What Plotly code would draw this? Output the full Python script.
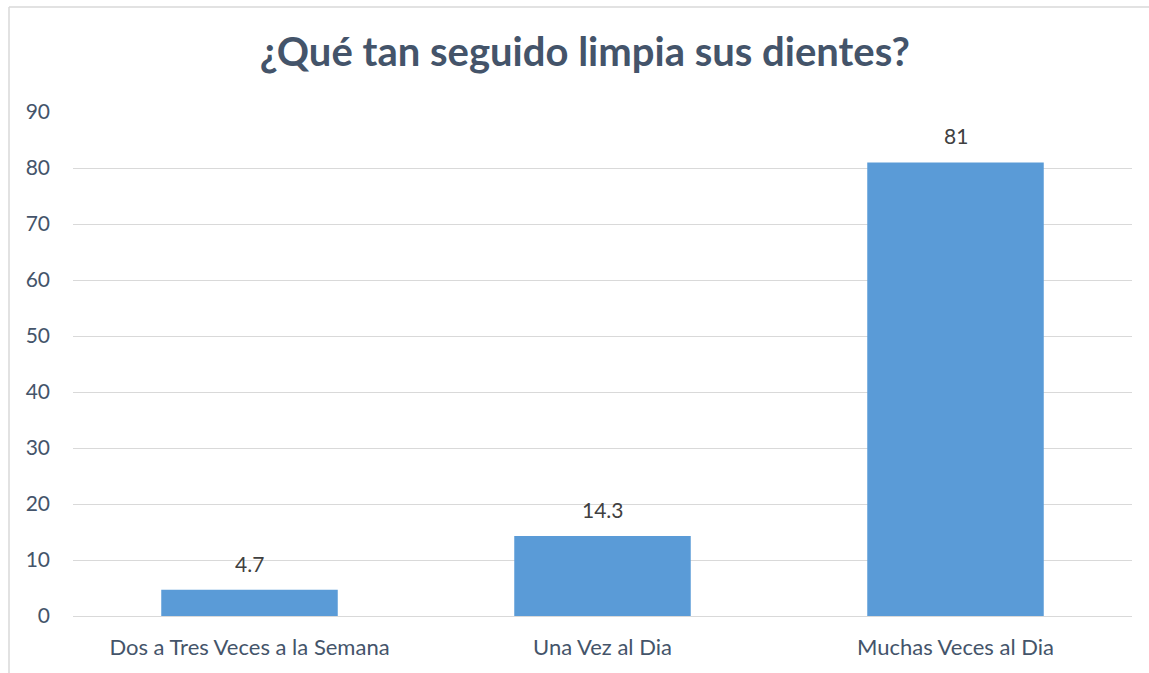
import plotly.graph_objects as go

categories = ["Dos a Tres Veces a la Semana", "Una Vez al Dia", "Muchas Veces al Dia"]
values = [4.7, 14.3, 81]
labels = ["4.7", "14.3", "81"]
y_ticks = [0, 10, 20, 30, 40, 50, 60, 70, 80, 90]

W, H = 1149, 673
L, R, T, B = 73, 17, 112, 57
pw, ph = W - L - R, H - T - B

FONT = "Lato, Carlito, Calibri, sans-serif"
TXT = "#44546A"

fig = go.Figure(go.Bar(
    x=categories, y=values,
    marker=dict(color="#5A9BD7", line=dict(width=0)),
    hoverinfo="x+y",
))

for c, v, t in zip(categories, values, labels):
    fig.add_annotation(x=c, y=v, text=t, showarrow=False, yanchor="bottom", yshift=12,
                       font=dict(family=FONT, size=21, color="#404040"))

fig.update_layout(
    width=W, height=H,
    margin=dict(l=L, r=R, t=T, b=B),
    paper_bgcolor="white", plot_bgcolor="white",
    bargap=0.5,
    showlegend=False,
    title=dict(text="<b>¿Qué tan seguido limpia sus dientes?</b>",
               x=0.509, xanchor="center", y=1 - 52 / H, yanchor="middle",
               font=dict(family=FONT, size=40, color=TXT)),
    font=dict(family=FONT, color=TXT),
)
fig.update_yaxes(range=[0, 90], tickvals=y_ticks, showgrid=True, gridcolor="#D9D9D9",
                 gridwidth=1, zeroline=False, showline=False,
                 tickfont=dict(family=FONT, size=21, color=TXT), ticklabelstandoff=22)
fig.update_xaxes(showline=True, linecolor="#D9D9D9", linewidth=1,
                 tickfont=dict(family=FONT, size=22, color=TXT), ticklabelstandoff=12)

# chart border (top and left edges visible in frame)
x_left = (9 - L) / pw
y_top = (H - B - 7) / ph
fig.add_shape(type="line", xref="paper", yref="paper", x0=x_left, x1=(W + 5 - L) / pw,
              y0=y_top, y1=y_top, line=dict(color="#D9D9D9", width=1.5))
fig.add_shape(type="line", xref="paper", yref="paper", x0=x_left, x1=x_left,
              y0=y_top, y1=-(B + 5) / ph, line=dict(color="#D9D9D9", width=1.5))

fig.write_html("out.html", config={"displayModeBar": False},
               post_script="document.body.style.margin='0';document.body.style.overflow='hidden';")
